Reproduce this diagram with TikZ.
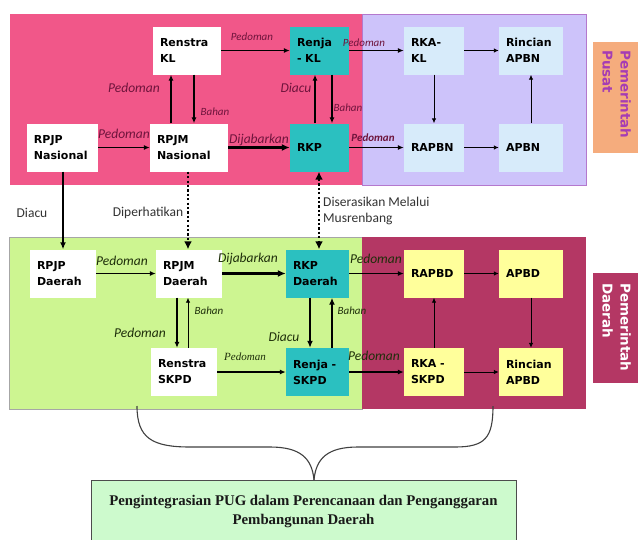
\documentclass[tikz,border=0pt]{standalone}
\usepackage{fontspec}
\setmainfont{Carlito}
\newfontfamily\nodefont{DejaVu Sans}
\newfontfamily\serifb{Liberation Serif}
\usetikzlibrary{arrows.meta,calc}
\definecolor{pinkbg}{RGB}{241,87,137}
\definecolor{lavbg}{RGB}{205,195,250}
\definecolor{lavbd}{RGB}{180,120,205}
\definecolor{greenbg}{RGB}{205,245,145}
\definecolor{maroonbg}{RGB}{180,55,100}
\definecolor{orangebg}{RGB}{245,172,125}
\definecolor{tealbox}{RGB}{43,192,192}
\definecolor{lbluebox}{RGB}{215,235,250}
\definecolor{yelbox}{RGB}{255,255,155}
\definecolor{pugbox}{RGB}{205,250,205}
\definecolor{toplbl}{RGB}{110,20,60}
\definecolor{botlbl}{RGB}{30,46,10}
\definecolor{purptxt}{RGB}{165,60,180}
\tikzset{
  box/.style={draw=none, inner xsep=7pt, inner ysep=2pt, minimum height=48pt, align=left,
    font=\nodefont\bfseries\fontsize{11}{16}\selectfont, text=black},
  arr/.style={-{Latex[length=6pt,width=5pt]}, line width=1.2pt, black},
  thinarr/.style={-{Latex[length=5pt,width=4.5pt]}, line width=0.9pt, black},
  thickarr/.style={-{Latex[length=8pt,width=7pt]}, line width=2.5pt, black},
  dotarr/.style={line width=2.6pt, dash pattern=on 2.2pt off 2.2pt, black},
  lblB/.style={font=\itshape\fontsize{13.5}{14}\selectfont, inner sep=0},
  lblS/.style={font=\itshape\fontsize{11}{12}\selectfont, inner sep=0},
  mid/.style={font=\fontsize{13.5}{16}\selectfont, inner sep=0, text=black!80, align=left},
  govtxt/.style={rotate=-90, anchor=north west, align=left, inner sep=0,
    font=\nodefont\bfseries\fontsize{13.5}{18}\selectfont},
}
\begin{document}
\begin{tikzpicture}[x=1pt,y=-1pt]
\useasboundingbox (0,0) rectangle (638,539);
\fill[white] (0,0) rectangle (638,539);
% regions
\fill[pinkbg] (10,14) rectangle (362,185);
\filldraw[fill=lavbg, draw=lavbd, line width=0.8pt] (362,14) rectangle (586,185);
\filldraw[fill=greenbg, draw=black!35, line width=0.8pt] (9,237) rectangle (362,409);
\fill[maroonbg] (362,237) rectangle (586,409);
\fill[orangebg] (593,42) rectangle (645,153);
\fill[maroonbg] (593,273) rectangle (645,383);
\node[govtxt, text=purptxt] (pusat) at (631,50) {Pemerintah\\Pusat};
\node[govtxt, text=white] (daerah) at (631,283) {Pemerintah\\Daerah};
% x positions for vertical connectors
\coordinate (v63) at (63,0);
\coordinate (v171) at (171,0);
\coordinate (v177) at (177,0);
\coordinate (v188) at (188,0);
\coordinate (v194) at (194,0);
\coordinate (v310) at (310,0);
\coordinate (v315) at (315,0);
\coordinate (v319) at (319,0);
\coordinate (v332) at (332,0);
% top nodes
\node[box, fill=white, text width=54pt] (rkl) at (187,50.5) {Renstra\\KL};
\node[box, fill=tealbox, text width=45pt] (renjakl) at (319.5,50.5) {Renja\\- KL};
\node[box, fill=lbluebox, text width=46pt] (rkakl) at (434,50.5) {RKA-\\KL};
\node[box, fill=lbluebox, text width=50pt] (rincapbn) at (531,50.5) {Rincian\\APBN};
\node[box, fill=white, text width=57pt] (rpjpn) at (62.5,147.5) {RPJP\\Nasional};
\node[box, fill=white, text width=64pt] (rpjmn) at (189,147.5) {RPJM\\Nasional};
\node[box, fill=tealbox, text width=45pt] (rkp) at (319.5,147.5) {RKP};
\node[box, fill=lbluebox, text width=46pt] (rapbn) at (434,147.5) {RAPBN};
\node[box, fill=lbluebox, text width=50pt] (apbn) at (531,147.5) {APBN};
% bottom nodes
\node[box, fill=white, text width=52pt] (rpjpd) at (63,273.5) {RPJP\\Daerah};
\node[box, fill=white, text width=52pt] (rpjmd) at (189,273.5) {RPJM\\Daerah};
\node[box, fill=tealbox, text width=49pt] (rkpd) at (317.5,273.5) {RKP\\Daerah};
\node[box, fill=yelbox, text width=46pt] (rapbd) at (434,273.5) {RAPBD};
\node[box, fill=yelbox, text width=50pt] (apbd) at (531,273.5) {APBD};
\node[box, fill=white, text width=52pt] (rsk) at (184,372) {Renstra\\SKPD};
\node[box, fill=tealbox, text width=49pt] (renjask) at (317.5,372) {Renja -\\SKPD};
\node[box, fill=yelbox, text width=46pt] (rkask) at (434,372) {RKA -\\SKPD};
\node[box, fill=yelbox, text width=50pt] (rincapbd) at (531,372) {Rincian\\APBD};
% top connectors
\draw[arr] (rkl) -- (renjakl);
\draw[arr] (rpjmn.north -| v171) -- (rkl.south -| v171);
\draw[arr] (rkl.south -| v194) -- (rpjmn.north -| v194);
\draw[arr] (rpjpn) -- (rpjmn);
\draw[thickarr] (rpjmn) -- (rkp);
\draw[arr] (rkp.north -| v315) -- (renjakl.south -| v315);
\draw[arr] (renjakl.south -| v332) -- (rkp.north -| v332);
\draw[arr] (renjakl) -- (rkakl);
\draw[thinarr] (rkakl) -- (rincapbn);
\draw[thinarr] (rkakl) -- (rapbn);
\draw[arr] (rkp) -- (rapbn);
\draw[thinarr] (rapbn) -- (apbn);
\draw[thinarr] (apbn) -- (rincapbn);
% between
\draw[-{Latex[length=7pt,width=6pt]}, line width=1.8pt] (rpjpn.south -| v63) -- (rpjpd.north -| v63);
\draw[dotarr, -{Latex[length=8pt,width=8pt]}] (rpjmn.south -| v188) -- (rpjmd.north -| v188);
\draw[dotarr, {Latex[length=8pt,width=8pt]}-{Latex[length=8pt,width=8pt]}] (rkp.south -| v319) -- (rkpd.north -| v319);
% bottom connectors
\draw[arr] (rpjpd) -- (rpjmd);
\draw[thickarr] (rpjmd) -- (rkpd);
\draw[arr] (rpjmd.south -| v177) -- (rsk.north -| v177);
\draw[thinarr] (rsk.north -| v188) -- (rpjmd.south -| v188);
\draw[arr] (rsk) -- (renjask);
\draw[-{Latex[length=7pt,width=6pt]}, line width=1.8pt] (rkpd.south -| v310) -- (renjask.north -| v310);
\draw[-{Latex[length=7pt,width=6pt]}, line width=1.8pt] (renjask.north -| v332) -- (rkpd.south -| v332);
\draw[arr] (rkpd) -- (rapbd);
\draw[arr] (renjask) -- (rkask);
\draw[thinarr] (rkask) -- (rapbd);
\draw[thinarr] (rapbd) -- (apbd);
\draw[thinarr] (apbd) -- (rincapbd);
\draw[thinarr] (rkask) -- (rincapbd);
% top labels
\node[lblS, text=toplbl] (l1) at (252,37) {Pedoman};
\node[lblB, text=toplbl] (l2) at (134,88) {Pedoman};
\node[lblS, text=toplbl] (l3) at (215,112) {Bahan};
\node[lblB, text=toplbl] (l4) at (124,134) {Pedoman};
\node[lblB, text=toplbl] (l5) at (259,140) {Dijabarkan};
\node[lblB, text=toplbl] (l6) at (296,88) {Diacu};
\node[lblS, text=toplbl] (l7) at (348,108) {Bahan};
\node[lblS, text=toplbl] (l8) at (364,43) {Pedoman};
\node[lblS, text=toplbl, font=\bfseries\itshape\fontsize{11}{12}\selectfont] (l9) at (373,138) {Pedoman};
% between labels
\node[mid] (m1) at (32,213) {Diacu};
\node[mid] (m2) at (148,213) {Diperhatikan};
\node[mid, anchor=west] (m3) at (323,211) {Diserasikan Melalui\\Musrenbang};
% bottom labels
\node[lblB, text=botlbl] (b1) at (122,261) {Pedoman};
\node[lblB, text=botlbl] (b2) at (248,259) {Dijabarkan};
\node[lblB, text=botlbl] (b3) at (140,333) {Pedoman};
\node[lblS, text=botlbl] (b4) at (209,311) {Bahan};
\node[text=botlbl, inner sep=0, font=\serifb\itshape\fontsize{11}{12}\selectfont] (b5) at (245,357) {Pedoman};
\node[lblB, text=botlbl] (b6) at (284,337) {Diacu};
\node[lblS, text=botlbl] (b7) at (352,311) {Bahan};
\node[lblB, text=botlbl] (b8) at (376,259) {Pedoman};
\node[lblB, text=botlbl] (b9) at (374,356) {Pedoman};
% bottom box and brace
\node[draw=black!70, line width=0.9pt, fill=pugbox, minimum width=425pt, minimum height=62pt,
  align=center, text=black!90, font=\serifb\bfseries\fontsize{14.8}{19}\selectfont] (pug) at (303.5,511)
  {Pengintegrasian PUG dalam Perencanaan dan Penganggaran\\Pembangunan Daerah};
\coordinate (bl) at (137,406);
\coordinate (br) at (493,406);
\coordinate (tip) at (314,480);
\draw[black!75, line width=1.1pt] (bl) .. controls (137,438) and (152,447) .. (190,447)
  -- (270,447) .. controls (300,447) and (312,458) .. (tip);
\draw[black!75, line width=1.1pt] (tip) .. controls (316,458) and (328,447) .. (358,447)
  -- (455,447) .. controls (485,447) and (493,438) .. (br);
\end{tikzpicture}
\end{document}
